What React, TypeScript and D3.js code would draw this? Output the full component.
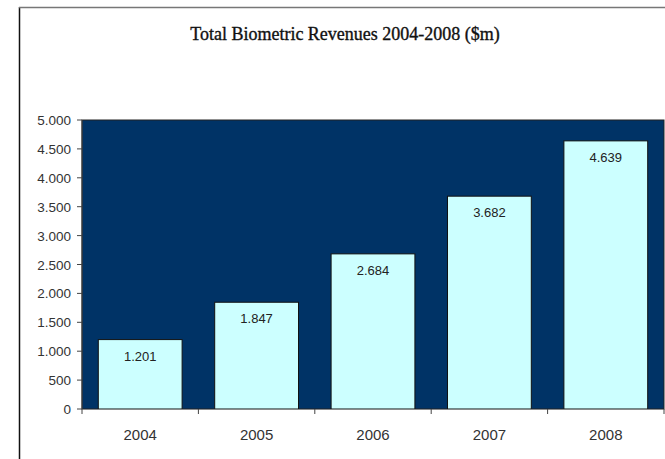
import React from "react";
import * as d3 from "d3";

const years = ["2004", "2005", "2006", "2007", "2008"];
const revenues = [1201, 1847, 2684, 3682, 4639];
const yTicks = [0, 500, 1000, 1500, 2000, 2500, 3000, 3500, 4000, 4500, 5000];
const title = "Total Biometric Revenues 2004-2008 ($m)";

const W = 665, H = 459;
const plot = { left: 82, right: 664, top: 120, bottom: 409 };

const fmt = (v: number) => {
  const s = String(v);
  return s.length > 3 ? s.slice(0, s.length - 3) + "." + s.slice(-3) : s;
};

export default function App() {
  const x = d3.scaleBand<string>().domain(years).range([plot.left, plot.right]).paddingInner(0.28).paddingOuter(0.14);
  const y = d3.scaleLinear().domain([0, 5000]).range([plot.bottom, plot.top]);
  const boundaries = d3.range(years.length + 1).map((i) => plot.left + i * ((plot.right - plot.left) / years.length));
  return (
    <svg width={W} height={H} style={{ position: "absolute", left: 0, top: 0, background: "#fff" }}>
      <line x1={19.5} y1={7} x2={19.5} y2={H} stroke="#111" strokeWidth={1.5} />
      <line x1={19} y1={7.5} x2={W} y2={7.5} stroke="#777" strokeWidth={1.5} />
      <text x={345} y={40} textAnchor="middle" fontFamily="Liberation Serif" fontSize={18} fill="#111" stroke="#111" strokeWidth={0.35}>{title}</text>
      <rect x={plot.left} y={plot.top} width={plot.right - plot.left} height={plot.bottom - plot.top} fill="#003366" stroke="#222" strokeWidth={1} />
      {yTicks.map((t) => (
        <g key={t}>
          <line x1={77} x2={plot.left} y1={y(t)} y2={y(t)} stroke="#444" />
          <text x={71} y={y(t) + 5} textAnchor="end" fontFamily="Liberation Sans" fontSize={13.5} fill="#333">{fmt(t)}</text>
        </g>
      ))}
      <line x1={plot.left} x2={plot.left} y1={plot.top} y2={plot.bottom} stroke="#444" />
      {years.map((yr, i) => (
        <g key={yr}>
          <rect x={x(yr)} y={y(revenues[i])} width={x.bandwidth()} height={plot.bottom - y(revenues[i])} fill="#CCFFFF" stroke="#111" strokeWidth={1} />
          <text x={(x(yr) as number) + x.bandwidth() / 2} y={y(revenues[i]) + 21} textAnchor="middle" fontFamily="Liberation Sans" fontSize={13} fill="#222">{fmt(revenues[i])}</text>
          <text x={(x(yr) as number) + x.bandwidth() / 2} y={440} textAnchor="middle" fontFamily="Liberation Sans" fontSize={15} fill="#333">{yr}</text>
        </g>
      ))}
      <line x1={plot.left} x2={plot.right} y1={plot.bottom + 0.5} y2={plot.bottom + 0.5} stroke="#888" />
      {boundaries.map((b, i) => (
        <line key={i} x1={b} x2={b} y1={plot.bottom} y2={plot.bottom + 5} stroke="#444" />
      ))}
    </svg>
  );
}
